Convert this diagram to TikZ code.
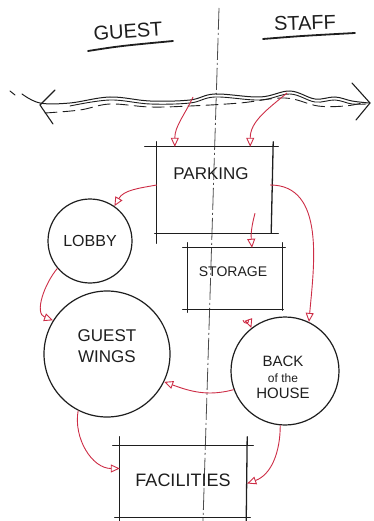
\documentclass[tikz,border=0pt]{standalone}
\usepackage{fontspec}
\setmainfont{Liberation Sans}
\usetikzlibrary{arrows.meta,calc}
\definecolor{sketchred}{RGB}{205,45,70}
\definecolor{inkc}{RGB}{30,30,30}
\begin{document}
\begin{tikzpicture}[x=1pt,y=-1pt,
  ink/.style={line width=1.3pt, draw=inkc, line cap=round},
  flow/.style={draw=sketchred, line width=0.9pt, -{Triangle[open,length=9pt,width=8pt]}},
  lbl/.style={font=\fontsize{14}{15}\selectfont, text=inkc, inner sep=0pt, align=center},
  area/.style={inner sep=0pt},
  room/.style={circle, draw=inkc, line width=1.2pt, inner sep=0pt, font=\fontsize{16}{17}\selectfont, text=inkc, align=center}]
\useasboundingbox (0,0) rectangle (374,521);

% centre line
\draw[draw=inkc!80, line width=0.8pt, dash pattern=on 22pt off 3pt on 2pt off 3pt] (219,8) -- (203,521);

% headings
\node[lbl, font=\fontsize{20}{21}\selectfont, rotate=4] (guest) at (128,31) {GUEST};
\node[lbl, font=\fontsize{20}{21}\selectfont, rotate=2] (staff) at (305,23) {STAFF};
\draw[ink, line width=1.8pt] (88,51) .. controls (120,46) .. (173,41);
\draw[ink, line width=1.8pt] (263,39) .. controls (300,36) .. (355,33);

% road
\draw[ink, line width=1pt] plot[smooth, tension=0.6] coordinates {(22,94) (40,103) (70,103) (110,97) (150,101) (190,100) (215,94) (260,97) (290,91) (315,99) (335,97) (352,101) (369,103)};
\draw[ink, line width=0.9pt] plot[smooth, tension=0.6] coordinates {(70,106) (110,100) (150,104) (190,103) (215,97) (260,100) (290,94) (315,102) (335,100) (352,104) (366,104)};
\draw[ink, line width=0.9pt, dash pattern=on 12pt off 6pt] plot[smooth, tension=0.6] coordinates {(45,113) (80,110) (110,104) (150,107) (190,106) (240,103) (285,98) (318,106) (345,106) (362,103)};
\draw[ink, line width=1pt] (10,91) -- (15,95);
\draw[ink, line width=1.1pt] (55,90) -- (40,105) -- (53,124);
\draw[ink, line width=1.1pt] (352,83) -- (370,103) -- (356,120);
\coordinate (roadg) at (193,97);
\coordinate (roads) at (287,93);

% rectangles (areas)
\node[area, minimum width=116pt, minimum height=86pt] (parking) at (215,190) {};
\draw[ink] ($(parking.north west)+(-12,0)$) -- ($(parking.north east)+(5,0)$);
\draw[ink] ($(parking.north west)+(0,-5)$) -- ($(parking.south west)+(0,10)$);
\draw[ink] ($(parking.north east)+(0,-5)$) -- ($(parking.south east)+(-2,0)$);
\draw[ink] ($(parking.south west)+(-2,0)$) -- ($(parking.south east)+(5,0)$);
\node[lbl, font=\fontsize{17}{18}\selectfont] (parkingtext) at (211,174) {PARKING};

\node[area, minimum width=94pt, minimum height=61pt] (storage) at (235,278.5) {};
\draw[ink] ($(storage.north west)+(-5,0)$) -- ($(storage.north east)+(3,0)$);
\draw[ink] ($(storage.north west)+(0,-5)$) -- ($(storage.south west)+(0,3)$);
\draw[ink] ($(storage.north east)+(0,-5)$) -- ($(storage.south east)+(0,1)$);
\draw[ink] ($(storage.south west)+(-5,0)$) -- ($(storage.south east)+(1,0)$);
\node[lbl, font=\fontsize{14}{15}\selectfont] (storagetext) at (233,272) {STORAGE};

\node[area, minimum width=127pt, minimum height=71pt] (facil) at (183.5,481.5) {};
\draw[ink] ($(facil.north west)+(-7,0)$) -- ($(facil.north east)+(6,0)$);
\draw[ink] ($(facil.north west)+(0,-9)$) -- ($(facil.south west)+(0,5)$);
\draw[ink] ($(facil.north east)+(0,-9)$) -- ($(facil.south east)+(-1,5)$);
\draw[ink] ($(facil.south west)+(-5,0)$) -- ($(facil.south east)+(3,0)$);
\node[lbl, font=\fontsize{18}{19}\selectfont] (faciltext) at (183,480) {FACILITIES};

% circles (rooms)
\node[room, minimum size=84pt] (lobby) at (90,241) {LOBBY};
\node[room, minimum size=126pt] (wings) at (107,354) {};
\node[lbl, font=\fontsize{17}{21}\selectfont] (wingstext) at (107,346) {GUEST\\WINGS};
\node[room, minimum size=108pt] (back) at (285,371) {};
\node[lbl, font=\fontsize{15}{16}\selectfont] (backtext) at (283,377) {BACK\\{\fontsize{12}{13}\selectfont of the}\\HOUSE};

% flows
\draw[flow] (roadg) to[out=-115,in=90] ($(parking.north west)+(18,0)$);
\draw[flow] (roads) to[out=-140,in=90] ($(parking.north east)+(-23,0)$);
\draw[flow] ($(parking.west)+(0,-5)$) to[out=190,in=60] (lobby.55);
\draw[flow] ($(parking.east)+(-3,-5)$) to[out=0,in=85] (back.64);
\draw[flow] ($(parking.south)+(40,-20)$) to[out=-105,in=95] ($(storage.north)+(17,0)$);
\draw[flow] ($(storage.south)+(8,11)$) to[out=-80,in=110] (back.128);
\draw[flow] (lobby.220) to[out=230,in=160] (wings.148);
\draw[flow] (back.200) to[out=195,in=-20] (wings.-26);
\draw[flow] (wings.243) to[out=-100,in=180] ($(facil.west)+(0,-13)$);
\draw[flow] (back.-95) to[out=-90,in=20] ($(facil.east)+(0,2)$);
\end{tikzpicture}
\end{document}
